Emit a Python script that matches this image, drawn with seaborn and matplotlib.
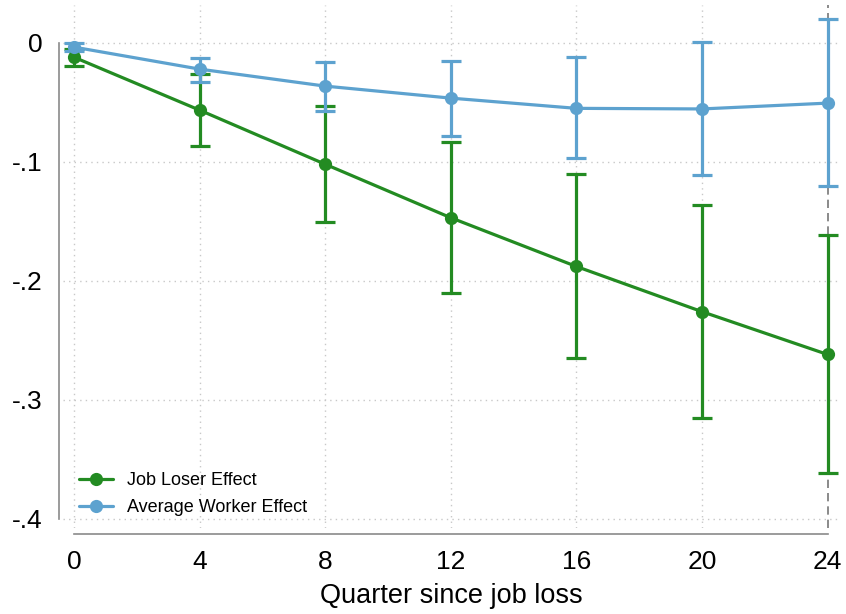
import matplotlib
matplotlib.use("Agg")
import matplotlib.pyplot as plt
import seaborn as sns
import pandas as pd
from matplotlib.ticker import FixedLocator, FixedFormatter

# Event-time coefficients (quarters since job loss)
quarters = [0, 4, 8, 12, 16, 20, 24]

loser_est = [-0.012, -0.0565, -0.102, -0.147, -0.188, -0.226, -0.262]
loser_lo = [-0.019, -0.087, -0.151, -0.210, -0.265, -0.3156, -0.362]
loser_hi = [-0.005, -0.026, -0.053, -0.0835, -0.1105, -0.136, -0.1615]

avg_est = [-0.0035, -0.022, -0.0363, -0.0464, -0.055, -0.0555, -0.0506]
avg_lo = [-0.007, -0.0326, -0.057, -0.078, -0.097, -0.111, -0.1206]
avg_hi = [0.0, -0.0124, -0.0158, -0.015, -0.0118, 0.001, 0.020]

series_names = ["Job Loser Effect", "Average Worker Effect"]
y_ticks = [0, -0.1, -0.2, -0.3, -0.4]
y_tick_labels = ["0", "-.1", "-.2", "-.3", "-.4"]

green = "#238B22"
blue = "#5DA2CF"

sns.set_style("white")
plt.rcParams["font.family"] = ["Liberation Sans", "DejaVu Sans"]

fig = plt.figure(figsize=(8.46, 6.14), dpi=100)
ax = fig.add_axes([0.0745, 0.140, 0.9185, 0.852])

df = pd.concat([
    pd.DataFrame({"quarter": quarters, "effect": loser_est, "series": series_names[0]}),
    pd.DataFrame({"quarter": quarters, "effect": avg_est, "series": series_names[1]}),
])

# dotted grid at the tick positions
grid_kw = dict(color="#c8c8c8", linestyle=(0, (1, 3)), linewidth=1.0, zorder=0)
for q in quarters[:-1]:
    ax.axvline(q, **grid_kw)
for yv in y_ticks:
    ax.axhline(yv, **grid_kw)
ax.axvline(24, color="#777777", linestyle=(0, (5, 3)), linewidth=1.2, zorder=1)

# confidence intervals
for est, lo, hi, col, z in [(loser_est, loser_lo, loser_hi, green, 2),
                            (avg_est, avg_lo, avg_hi, blue, 4)]:
    yerr = [[e - l for e, l in zip(est, lo)], [h - e for e, h in zip(est, hi)]]
    ax.errorbar(quarters, est, yerr=yerr, fmt="none", ecolor=col,
                elinewidth=2.3, capsize=7, capthick=2.3, zorder=z)

sns.lineplot(data=df, x="quarter", y="effect", hue="series",
             palette=[green, blue], marker="o", markersize=9.5,
             markeredgewidth=0, linewidth=2.3, ax=ax, zorder=5)

ax.set_xlim(-0.35, 24.4)
ax.set_ylim(-0.408, 0.032)

ax.xaxis.set_major_locator(FixedLocator(quarters))
ax.set_xticklabels([str(q) for q in quarters])
ax.yaxis.set_major_locator(FixedLocator(y_ticks))
ax.yaxis.set_major_formatter(FixedFormatter(y_tick_labels))

for s in ["top", "right"]:
    ax.spines[s].set_visible(False)
ax.spines["left"].set_bounds(-0.4, 0)
ax.spines["bottom"].set_bounds(0, 24)
ax.spines["left"].set_position(("outward", 3))
ax.spines["bottom"].set_position(("outward", 4))
for s in ["left", "bottom"]:
    ax.spines[s].set_color("#8a8a8a")
    ax.spines[s].set_linewidth(1.2)

ax.tick_params(axis="both", direction="out", length=6, width=1.2,
               color="#8a8a8a", labelsize=19, labelcolor="black")
ax.tick_params(axis="y", pad=6)
ax.tick_params(axis="x", pad=6)

ax.set_xlabel("Quarter since job loss", fontsize=19.5, color="black", labelpad=6)
ax.set_ylabel("")

leg = ax.legend(loc="lower left", bbox_to_anchor=(0.0, -0.008), frameon=False,
                fontsize=13, handlelength=1.85, handletextpad=0.8,
                labelspacing=0.55, borderaxespad=0.5)
for t in leg.get_texts():
    t.set_color("black")
for h in leg.legend_handles:
    h.set_markersize(9.5)

fig.savefig("out.png", dpi=100)
